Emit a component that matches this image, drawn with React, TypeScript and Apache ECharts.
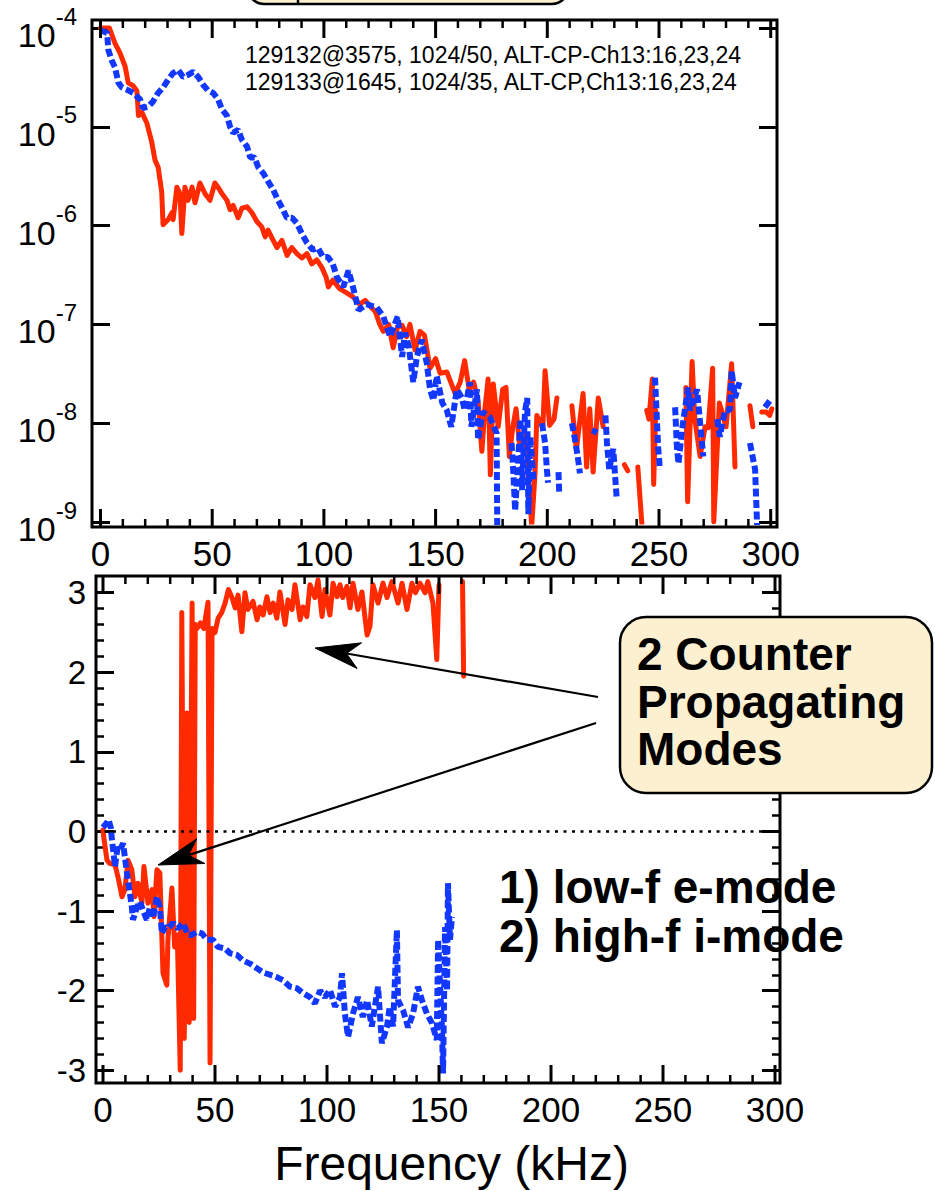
import React, { useEffect, useRef } from "react";
import * as echarts from "echarts";

const FONT = '"Liberation Sans", Arial, Helvetica, sans-serif';
const RED = "#ff2a00";
const BLUE = "#1238ff";
const CREAM = "#fdf0d0";

// Fluctuation power spectra, [frequency kHz, power]; null marks a break in the trace
const redPower: [number, number | null][] = [
  [0, 1.0e-4], [2, 1.05e-4], [4, 1.0e-4], [6.5, 7e-5], [8.7, 5.6e-5], [11, 4.1e-5], [12.4, 2.8e-5],
  [14.6, 2.6e-5], [16.3, 2.3e-5], [17, 1.3e-5], [18.5, 1.4e-5], [20.7, 1.1e-5], [23, 6.9e-6],
  [24.4, 4.6e-6], [25.8, 3.9e-6], [27.4, 2.2e-6], [28, 1.02e-6], [30.3, 1.15e-6], [32, 1.35e-6],
  [32.5, 1.15e-6], [34.2, 2.45e-6], [35.6, 2.1e-6], [36.4, 8.3e-7], [37.8, 2.45e-6], [39.2, 1.8e-6],
  [41, 2.45e-6], [42.3, 1.7e-6], [44.5, 2.7e-6], [46.8, 2.1e-6], [49, 1.8e-6], [51.2, 2.7e-6],
  [52.6, 2.45e-6], [54.4, 2.1e-6], [56.6, 1.8e-6], [58, 1.45e-6], [59.4, 1.6e-6], [61.6, 1.2e-6],
  [63.3, 1.5e-6], [65.6, 1.55e-6], [67.8, 1.35e-6], [70, 1.1e-6], [72.2, 9.7e-7], [73.7, 7.7e-7],
  [75, 9e-7], [77.3, 7.1e-7], [79, 6e-7], [81.2, 7.1e-7], [83.5, 5e-7], [85.6, 6e-7], [87.9, 5.2e-7],
  [90.1, 4.7e-7], [92.4, 5.2e-7], [94.6, 4.1e-7], [96.8, 4.5e-7], [99, 3.8e-7], [101, 3.0e-7],
  [102, 2.4e-7], [104, 2.8e-7], [107, 2.3e-7], [110, 2.1e-7], [113, 1.9e-7], [116, 1.6e-7],
  [118.5, 1.75e-7], [121, 1.5e-7], [123, 1.35e-7], [125, 1.0e-7], [126.6, 8.5e-8], [129, 1.0e-7],
  [131, 5.8e-8], [133, 9.5e-8], [135, 9.8e-8], [137, 7.5e-8], [138.5, 1.0e-7], [140.8, 5.5e-8],
  [143, 8.5e-8], [145, 7.8e-8], [147.5, 3.6e-8], [150, 4.5e-8], [152, 3.2e-8], [155, 3.3e-8],
  [158.7, 2.0e-8], [161, 2.6e-8], [163, 4.3e-8], [165, 2.2e-8], [167, 2.6e-8], [169, 1.7e-8],
  [170.7, 5.2e-9], [172, 1.35e-8], [173.5, 2.8e-8], [174.5, 3.0e-9], [175.8, 2.5e-8], [178, 9.2e-9],
  [180, 2.2e-8], [181.5, 2.3e-8], [183, 4.6e-9], [184.5, 9e-9], [186, 1.4e-8], [187.8, 5.4e-9],
  [190, 7.9e-9], [192, 2.2e-9], [193, 9e-10], [194.5, 3.1e-9], [195.3, 1.2e-8], [198, 9.2e-9],
  [199, 3.4e-8], [201, 9.5e-9], [203, 1.1e-8], [204.3, 1.8e-8], [207, null], [211, 1.5e-8],
  [213, 5.4e-9], [216, 2.0e-8], [217.6, 3.6e-9], [219, 1.4e-8], [220.5, 3.2e-9], [222.8, 1.8e-8],
  [225, 9.2e-9], [230, null], [234.5, 3.8e-9], [236, 3.3e-9], [238, null], [240.5, 3.6e-9],
  [242.4, 9e-10], [243.5, null], [244.5, 1.35e-8], [245.5, 1.1e-8], [247, 2.8e-8], [247.6, 2.4e-9],
  [248.5, 1.35e-8], [255, null], [262, 2.3e-8], [262.8, 1.6e-9], [264.8, 4.2e-8], [266, 1.1e-8],
  [268.4, 4.6e-9], [270.6, 9.2e-9], [272, 9e-9], [274, 3.6e-8], [274.5, 1.0e-9], [277, 1.6e-8],
  [280, 9.2e-9], [282.5, 4.0e-8], [284, 3.6e-9], [287, null], [290.7, 1.5e-8], [292, 9.2e-9],
  [294, null], [296, 1.3e-8], [298, 1.3e-8], [299.5, 1.2e-8], [300.5, 1.4e-8],
];

const bluePower: [number, number | null][] = [
  [0, 9.5e-5], [3, 8.9e-5], [3.5, 6e-5], [5, 4.7e-5], [6.5, 4e-5], [8, 2.8e-5], [9.6, 2.5e-5],
  [12.3, 2.35e-5], [14.6, 2.2e-5], [17.7, 1.9e-5], [19, 1.55e-5], [21.3, 1.6e-5], [23.5, 1.8e-5],
  [25.8, 2.2e-5], [28, 2.5e-5], [30.3, 3e-5], [32.5, 3.5e-5], [34.8, 3.75e-5], [37, 3.2e-5],
  [39.2, 3.35e-5], [41.5, 3.6e-5], [43.7, 3.2e-5], [46, 2.65e-5], [48, 2.35e-5], [50.4, 2.2e-5],
  [52.6, 1.9e-5], [54.4, 1.5e-5], [56.6, 1.3e-5], [58, 1.0e-5], [59.4, 8.7e-6], [61.6, 9.3e-6],
  [63.3, 7.4e-6], [65.6, 6.3e-6], [67, 4.9e-6], [69, 4.9e-6], [70.6, 3.9e-6], [72.8, 3.4e-6],
  [75, 2.8e-6], [77.3, 2.3e-6], [79.5, 1.8e-6], [81.7, 1.45e-6], [83.4, 1.2e-6], [85.7, 1.2e-6],
  [88, 1.05e-6], [90, 8.4e-7], [92.4, 6.7e-7], [95, 5.7e-7], [97.4, 5.9e-7], [99.6, 4.8e-7],
  [101.8, 4.8e-7], [104, 4.1e-7], [105.8, 3.0e-7], [108.7, 2.4e-7], [111, 3.5e-7], [113, 2.4e-7],
  [115.5, 1.4e-7], [119, 1.6e-7], [121, 1.55e-7], [123.6, 1.5e-7], [126.6, 1.2e-7], [129.6, 7.5e-8],
  [133, 1.2e-7], [135, 4.7e-8], [136.3, 8.2e-8], [138, 6e-8], [140, 2.6e-8], [141.6, 4.7e-8],
  [143.8, 7e-8], [146, 4.1e-8], [147.5, 2.2e-8], [149, 1.7e-8], [150.5, 3.0e-8], [153, 1.6e-8],
  [155, 1.35e-8], [157, 9.2e-9], [159.5, 2.2e-8], [161.8, 1.8e-8], [163, 1.35e-8], [165.4, 2.6e-8],
  [166, 9.2e-9], [168.5, 2.2e-8], [169, 6.8e-9], [171, 1.3e-8], [174.3, 1.15e-8], [177.3, 7.9e-9],
  [177.6, 8e-10], [179, null], [184, 6.3e-9], [184.8, 3.1e-9], [185.6, 1.3e-9], [187, 4.5e-9],
  [188, 1.1e-8], [188.7, 2.1e-9], [190, 1.3e-8], [191, 1.8e-8], [191.5, 1.2e-9], [192.4, 7.3e-9],
  [193, 4.6e-9], [193.8, 2.7e-9], [195.5, null], [197.6, 1.0e-8], [199, 6.3e-9], [199.8, 3.4e-9],
  [200.3, 2.5e-9], [202, null], [205, 3.2e-9], [205.3, 2.0e-9], [208, null], [211, 1.0e-8],
  [212.4, 6.8e-9], [213.6, 4.6e-9], [214.6, 3.1e-9], [217, null], [220, 8.5e-9], [222.3, 8.0e-9],
  [224, null], [226, 1.2e-8], [226.7, 6.3e-9], [227.7, 3.4e-9], [229.5, 5.5e-9], [231, 1.8e-9],
  [240, null], [248.2, 2.9e-8], [249, 1.15e-8], [249.6, 5.7e-9], [250.4, 3.4e-9], [254, null],
  [257.2, 1.45e-8], [258, 5.7e-9], [258.7, 3.9e-9], [260.3, 8.6e-9], [263, 2.3e-8], [263.8, 1.35e-8],
  [267, 2.2e-8], [268.4, 1.0e-8], [269.8, 4.6e-9], [273, null], [276, 1.1e-8], [277.2, 7.3e-9],
  [279.5, 1.35e-8], [281.7, 1.35e-8], [282.5, 3.4e-8], [284, 1.8e-8], [286, 2.6e-8], [288, null],
  [290.7, 6.3e-9], [293, 3.4e-9], [294, 8e-10], [295.5, null], [297.4, 1.45e-8], [300.5, 1.8e-8],
];

// Cross-phase between channels, [frequency kHz, phase rad]
const redPhase: [number, number | null][] = [
  [0, 0.02], [0.5, -0.1], [1.8, -0.36], [3, -0.4], [5.4, -0.42], [6.7, -0.57], [8.5, -0.82],
  [9.8, -0.73], [11.2, -0.36], [12.9, -0.48], [14.3, -0.82], [15.6, -0.65], [17.4, -0.9],
  [18.3, -0.44], [20.1, -0.9], [21.9, -0.73], [22.8, -1.07], [24.1, -0.48], [25.4, -0.52],
  [26.8, -1.78], [28.5, -1.93], [29, -1.36], [30.8, -0.71], [32, -1.45], [33.2, -1.3], [34.5, -3.0],
  [35.2, 2.75], [36.3, -2.6], [37.5, 1.49], [38.5, -2.4], [39.8, 2.87], [40.5, -2.35], [41.2, 2.6],
  [42, 2.55], [43.5, 2.62], [45, 2.55], [46.9, 2.88], [47.8, -2.91], [48.7, 2.55], [50, 2.5],
  [51.4, 2.68], [53, 2.75], [54.5, 2.87], [56, 3.04], [57.6, 2.94], [59, 2.81], [60.3, 2.97],
  [62, 2.51], [63.4, 3.0], [64.7, 2.79], [67, 2.89], [68.8, 2.66], [70, 2.82], [71.5, 2.72],
  [73.2, 2.95], [74.6, 2.75], [76, 2.87], [77.6, 2.68], [79, 3.01], [81.3, 2.6], [82.6, 2.91],
  [84.4, 2.79], [85.7, 3.1], [88, 2.66], [89.3, 2.82], [91, 2.7], [92.4, 3.1], [94.6, 2.94],
  [96, 3.16], [97.8, 2.7], [99.1, 3.04], [101.3, 2.72], [102.7, 3.12], [104.5, 2.95], [105.8, 3.1],
  [107, 2.94], [108.9, 3.08], [110.3, 2.81], [111.6, 3.12], [113.8, 2.79], [115.6, 3.01],
  [117.9, 2.47], [119.2, 2.58], [120.5, 3.1], [122.8, 2.87], [125, 3.12], [126.8, 2.94], [129, 3.14],
  [131.7, 2.87], [133.5, 3.12], [135.7, 2.79], [137.9, 3.12], [139.5, 3.0], [141.5, 3.12],
  [143.8, 3.0], [145, 3.14], [147.3, 2.87], [149, 2.16], [150, 3.1], [155, null], [160.5, 3.14],
  [161, 1.95],
];

const bluePhase: [number, number | null][] = [
  [0, 0.05], [1.5, 0.1], [2.5, 0.15], [3.5, 0.05], [4, -0.1], [5.4, -0.44], [6.5, -0.2], [7.6, -0.23],
  [9, -0.15], [10.7, -0.52], [12.9, -0.95], [13.4, -1.11], [15.2, -0.95], [16.5, -0.88],
  [17.9, -0.99], [19.6, -1.11], [21, -0.95], [22.3, -1.09], [24.1, -0.82], [25.4, -0.95],
  [26.3, -1.28], [27.7, -1.2], [29, -1.22], [31.3, -1.15], [33.5, -1.22], [35.7, -1.15], [38, -1.3],
  [39.7, -1.3], [41.9, -1.26], [44.2, -1.28], [46.4, -1.36], [49.1, -1.36], [51.3, -1.45],
  [54.5, -1.47], [56.7, -1.53], [59.8, -1.55], [62.5, -1.62], [65.6, -1.66], [68.8, -1.72],
  [71.4, -1.77], [74.6, -1.8], [77.6, -1.83], [80.4, -1.87], [83.5, -1.95], [86.6, -1.97],
  [89.3, -2.03], [92.4, -2.08], [94.6, -2.16], [96.9, -2.0], [99.1, -2.08], [101.3, -1.99],
  [103.6, -2.2], [105.8, -2.08], [106.7, -1.78], [108, -2.29], [109.4, -2.58], [111.6, -2.29],
  [113.8, -2.08], [116, -2.33], [117.9, -2.12], [120, -2.45], [121.4, -2.2], [122.8, -1.95],
  [124.5, -2.66], [126.8, -2.45], [128, -2.2], [129.5, -2.45], [131.2, -1.24], [131.7, -2.12],
  [134, -2.25], [136.2, -2.46], [138.4, -2.29], [140.6, -1.95], [142.4, -2.12], [144.6, -2.29],
  [146.9, -2.41], [149, -2.62], [149.6, -1.36], [151.3, -2.45], [151.8, -3.04], [152.7, -1.2],
  [153.6, -2.0], [154, -0.65], [154.9, -1.36], [155.8, -1.07],
];

// Tick positions
const freqMajorTicks = [0, 50, 100, 150, 200, 250, 300];
const freqMinorTicks = [10, 20, 30, 40, 60, 70, 80, 90, 110, 120, 130, 140, 160, 170, 180, 190, 210, 220, 230, 240, 260, 270, 280, 290];
const phaseMajor = [-3, -2, -1, 0, 1, 2, 3];
const phaseMinor = [-2.8, -2.6, -2.4, -2.2, -1.8, -1.6, -1.4, -1.2, -0.8, -0.6, -0.4, -0.2, 0.2, 0.4, 0.6, 0.8, 1.2, 1.4, 1.6, 1.8, 2.2, 2.4, 2.6, 2.8];
const FREQ_TICK = { min: 0, max: 300, major: 50 };

const annotationLines = [
  "129132@3575, 1024/50, ALT-CP-Ch13:16,23,24",
  "129133@1645, 1024/35, ALT-CP,Ch13:16,23,24",
];
const boxLines = ["2 Counter", "Propagating", "Modes"];
const modeLines = ["1) low-f e-mode", "2) high-f i-mode"];

const toSeriesData = (pts: [number, number | null][]) =>
  pts.map(([f, v]) => [f, v === null ? "-" : v]);

// frequency extent of the data area (slightly wider than 0..300)
const TOP_X = { min: -3.8, max: 302.8 };
const BOT_X = { min: -3.1, max: 302.2 };
const BOT_Y = { min: -3.16, max: 3.21 };

// panel frames
const TOP_FRAME = { x: 92, y: 20, width: 685, height: 507 };
const BOT_FRAME = { x: 96, y: 576, width: 684, height: 507 };

// frequency axis carrying labels on a grid spanning exactly 0..300 between the frame edges
function freqLabelAxis(gridIndex: number, position: string, extra: any = {}) {
  return {
    type: "value", gridIndex, position, min: FREQ_TICK.min, max: FREQ_TICK.max, interval: FREQ_TICK.major,
    axisLine: { show: false, onZero: false },
    splitLine: { show: false },
    axisTick: { show: false },
    axisLabel: { show: true, margin: 9, fontSize: 35, color: "#000", fontFamily: FONT, showMinLabel: true, showMaxLabel: true },
    ...extra,
  };
}

function dataFreqAxis(gridIndex: number, range: { min: number; max: number }) {
  return { type: "value", gridIndex, min: range.min, max: range.max, show: false };
}

function phaseAxis(position: string, ticks: number[], len: number, width: number, labels: boolean) {
  return {
    type: "value", gridIndex: 1, position, offset: 0, min: BOT_Y.min, max: BOT_Y.max,
    axisLine: { show: false, onZero: false }, splitLine: { show: false },
    axisTick: { show: true, inside: true, length: len, customValues: ticks, lineStyle: { color: "#000", width } },
    axisLabel: labels
      ? { show: true, customValues: ticks, margin: 10, fontSize: 33, color: "#000", fontFamily: FONT }
      : { show: false },
  };
}

function powerAxis(position: string, labels: boolean) {
  return {
    type: "log", logBase: 10, gridIndex: 0, position, min: 1e-9, max: 1e-4,
    axisLine: { show: false, onZero: false }, splitLine: { show: false }, minorTick: { show: false },
    axisTick: { show: true, inside: true, length: 18, lineStyle: { color: "#000", width: 3 } },
    axisLabel: labels
      ? {
          show: true, margin: 15,
          formatter: (v: number) => `{b|10}{s|${Math.round(Math.log10(v))}}`,
          rich: {
            b: { fontSize: 34, fontFamily: FONT, color: "#000", lineHeight: 48, verticalAlign: "bottom" },
            s: { fontSize: 24, fontFamily: FONT, color: "#000", lineHeight: 24, verticalAlign: "top" },
          },
        }
      : { show: false },
  };
}

function arrow(tail: [number, number], tip: [number, number]) {
  const dx = tip[0] - tail[0];
  const dy = tip[1] - tail[1];
  const d = Math.hypot(dx, dy);
  const ux = dx / d, uy = dy / d;
  const px = -uy, py = ux;
  const L = 45, H = 13, N = 32;
  const bx = tip[0] - ux * L, by = tip[1] - uy * L;
  const notch: [number, number] = [tip[0] - ux * N, tip[1] - uy * N];
  return [
    {
      type: "line", z: 110, silent: true,
      shape: { x1: tail[0], y1: tail[1], x2: notch[0], y2: notch[1] },
      style: { stroke: "#000", lineWidth: 2.2 },
    },
    {
      type: "polygon", z: 111, silent: true,
      shape: { points: [tip, [bx + px * H, by + py * H], notch, [bx - px * H, by - py * H]] },
      style: { fill: "#000", stroke: "#000", lineWidth: 1 },
    },
  ];
}

function label(text: string, x: number, baseline: number, size: number, bold: boolean) {
  const y = baseline - 0.3465 * size;
  return {
    type: "text", z: 120, silent: true,
    style: {
      text, x, y, fill: "#000",
      font: `${bold ? "bold " : ""}${size}px ${FONT}`,
      textAlign: "left", align: "left", textVerticalAlign: "middle", verticalAlign: "middle",
    },
  };
}

const baseGraphics: any[] = [
  { type: "rect", z: 60, silent: true, shape: { ...TOP_FRAME }, style: { fill: "none", stroke: "#000", lineWidth: 3 } },
  { type: "rect", z: 60, silent: true, shape: { ...BOT_FRAME }, style: { fill: "none", stroke: "#000", lineWidth: 3 } },
  // title box running off the top edge
  {
    type: "rect", z: 100, silent: true,
    shape: { x: 248, y: -40, width: 320, height: 44, r: 16 },
    style: { fill: CREAM, stroke: "#000", lineWidth: 2.5 },
  },
  {
    type: "line", z: 101, silent: true,
    shape: { x1: 298, y1: 0, x2: 298, y2: 4 },
    style: { stroke: "#000", lineWidth: 2.5 },
  },
  // shot information
  {
    type: "text", z: 120, silent: true,
    style: {
      text: annotationLines[0], x: 245, y: 55, fill: "#000", font: `23px ${FONT}`,
      textAlign: "left", align: "left", textVerticalAlign: "middle", verticalAlign: "middle",
    },
  },
  {
    type: "text", z: 120, silent: true,
    style: {
      text: annotationLines[1], x: 245, y: 82, fill: "#000", font: `23px ${FONT}`,
      textAlign: "left", align: "left", textVerticalAlign: "middle", verticalAlign: "middle",
    },
  },
  // call-out box and arrows
  ...arrow([598, 697], [315, 648]),
  ...arrow([596, 723], [158, 865]),
  {
    type: "rect", z: 115, silent: true,
    shape: { x: 620, y: 617, width: 312, height: 176, r: 26 },
    style: { fill: CREAM, stroke: "#000", lineWidth: 2.5 },
  },
  label(boxLines[0], 637, 670, 46, true),
  label(boxLines[1], 637, 718, 46, true),
  label(boxLines[2], 637, 765, 46, true),
  label(modeLines[0], 499, 903, 46, true),
  label(modeLines[1], 499, 952, 46, true),
];

const option: any = {
  animation: false,
  backgroundColor: "#ffffff",
  textStyle: { fontFamily: FONT },
  grid: [
    // data areas
    { left: 92, top: 28, width: 685, height: 494, containLabel: false, outerBoundsMode: "none" },
    { left: 96, top: 576, width: 684, height: 507, containLabel: false, outerBoundsMode: "none" },
    // frequency scale frames (0..300 kHz, full frame height)
    { left: 100.5, top: 20, width: 670.2, height: 507, containLabel: false, outerBoundsMode: "none" },
    { left: 103, top: 576, width: 672, height: 507, containLabel: false, outerBoundsMode: "none" },
  ],
  xAxis: [
    dataFreqAxis(0, TOP_X),
    dataFreqAxis(1, BOT_X),
    freqLabelAxis(2, "bottom"),
    freqLabelAxis(3, "bottom", {
      name: "Frequency (kHz)", nameLocation: "middle", nameGap: 56,
      nameTextStyle: { fontSize: 48, color: "#000", fontFamily: FONT, padding: [0, 0, 0, 25] },
    }),
  ],
  yAxis: [
    powerAxis("left", true),
    powerAxis("right", false),
    phaseAxis("left", phaseMajor, 18, 3, true),
    phaseAxis("left", phaseMinor, 8, 2.5, false),
    phaseAxis("right", phaseMajor, 18, 3, false),
    phaseAxis("right", phaseMinor, 8, 2.5, false),
    { type: "value", gridIndex: 2, show: false, min: 0, max: 1 },
    { type: "value", gridIndex: 3, show: false, min: 0, max: 1 },
  ],
  series: [
    {
      type: "line", xAxisIndex: 0, yAxisIndex: 0, data: toSeriesData(redPower),
      showSymbol: false, symbol: "none", z: 3,
      lineStyle: { color: RED, width: 5, join: "round", cap: "round" },
    },
    {
      type: "line", xAxisIndex: 0, yAxisIndex: 0, data: toSeriesData(bluePower),
      showSymbol: false, symbol: "none", z: 4,
      lineStyle: { color: BLUE, width: 6, type: [8, 3.5] },
    },
    {
      type: "line", xAxisIndex: 1, yAxisIndex: 2, data: toSeriesData(redPhase),
      showSymbol: false, symbol: "none", z: 3,
      lineStyle: { color: RED, width: 5, join: "round", cap: "round" },
    },
    {
      type: "line", xAxisIndex: 1, yAxisIndex: 2, data: toSeriesData(bluePhase),
      showSymbol: false, symbol: "none", z: 4,
      lineStyle: { color: BLUE, width: 6, type: [8, 3.5] },
      markLine: {
        silent: true, symbol: ["none", "none"], label: { show: false },
        lineStyle: { color: "#000", width: 2.5, type: [3, 5.5] },
        data: [{ yAxis: 0 }],
      },
    },
  ],
  graphic: { elements: baseGraphics },
};

// frequency ticks on the top and bottom frame edges, positioned through the frequency axis scale
function frequencyTicks(chart: echarts.ECharts, xAxisIndex: number, frame: { y: number; height: number }) {
  const out: any[] = [];
  const add = (f: number, len: number, w: number) => {
    const x = chart.convertToPixel({ xAxisIndex } as any, f) as unknown as number;
    if (typeof x !== "number" || !isFinite(x)) return;
    const bottom = frame.y + frame.height;
    out.push(
      { type: "rect", z: 70, silent: true, shape: { x: x - w / 2, y: bottom - len, width: w, height: len }, style: { fill: "#000" } },
      { type: "rect", z: 70, silent: true, shape: { x: x - w / 2, y: frame.y, width: w, height: len }, style: { fill: "#000" } },
    );
  };
  freqMajorTicks.forEach((f) => add(f, 18, 3));
  freqMinorTicks.forEach((f) => add(f, 8, 2.5));
  return out;
}

export default function App() {
  const ref = useRef<HTMLDivElement>(null);
  useEffect(() => {
    if (!ref.current) return;
    const chart = echarts.init(ref.current, undefined, { renderer: "svg" });
    chart.setOption(option);
    try {
      const ticks = [
        ...frequencyTicks(chart, 2, TOP_FRAME),
        ...frequencyTicks(chart, 3, BOT_FRAME),
      ];
      chart.setOption({ graphic: { elements: [...baseGraphics, ...ticks] } });
    } catch (e) {
      // keep the chart without the frame ticks
    }
    return () => chart.dispose();
  }, []);
  return (
    <div
      ref={ref}
      style={{ position: "absolute", left: 0, top: 0, width: 935, height: 1191, background: "#fff" }}
    />
  );
}
